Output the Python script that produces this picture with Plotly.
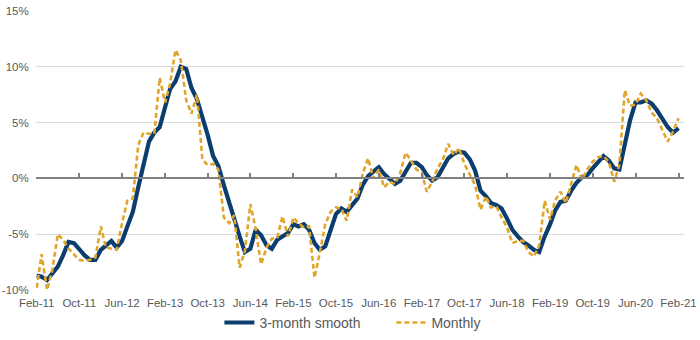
import pandas as pd
import plotly.graph_objects as go

# Monthly dates Feb-11 .. Feb-21
months = pd.date_range("2011-02-01", "2021-02-01", freq="MS")

smooth_3m = [
    -8.7, -8.8, -9.1, -8.5, -7.9, -6.9, -5.7, -5.8, -6.4, -6.9,
    -7.3, -7.3, -6.4, -6.0, -5.6, -6.2, -5.6, -4.3, -3.0, -0.8,
    1.2, 3.3, 4.1, 4.6, 6.4, 8.0, 8.7, 10.0, 9.8, 8.1,
    7.1, 5.6, 3.9, 2.0, 1.1, -0.6, -2.3, -3.7, -5.2, -6.6,
    -6.3, -4.6, -5.1, -6.0, -6.3, -5.5, -5.2, -4.9, -4.1, -4.3,
    -4.1, -4.6, -5.8, -6.4, -6.1, -4.6, -3.2, -2.7, -3.0, -2.4,
    -1.8, -0.6, 0.2, 0.6, 1.0, 0.4, 0.0, -0.5, -0.2, 0.6,
    1.4, 1.4, 1.0, 0.3, -0.2, 0.1, 0.9, 1.8, 2.2, 2.4,
    2.3, 1.7, 0.7, -1.1, -1.6, -2.2, -2.4, -2.7, -3.6, -4.6,
    -5.2, -5.7, -6.0, -6.4, -6.6, -5.2, -4.1, -2.9, -2.1, -2.0,
    -1.1, -0.4, 0.1, 0.3, 0.9, 1.5, 2.0, 1.6, 0.9, 0.8,
    3.0, 5.2, 6.8, 6.8, 7.0, 6.7, 6.1, 5.3, 4.6, 4.1,
    4.5,
]

monthly = [
    -9.8, -6.8, -10.0, -8.2, -5.0, -5.5, -6.3, -6.8, -7.3, -7.4,
    -7.3, -7.1, -4.3, -6.2, -6.3, -6.4, -4.0, -2.0, -1.8, 3.0,
    4.1, 4.0, 4.0, 9.0, 6.8, 8.5, 11.5, 10.6, 7.0, 5.8,
    7.5, 1.7, 1.2, 1.3, 0.8, -3.5, -4.0, -3.3, -8.0, -6.5,
    -2.3, -4.5, -7.7, -6.2, -5.4, -5.3, -3.4, -5.2, -3.5, -4.0,
    -4.4, -4.3, -8.9, -6.7, -4.1, -3.0, -2.6, -2.7, -3.8, -1.0,
    -1.7, 0.4, 1.8, 0.0, 0.8, -0.8, -0.3, -0.5, 0.5, 2.3,
    1.6, 0.8, 0.5, -1.2, -0.3, 0.9, 1.7, 3.1, 2.1, 2.7,
    1.3, 0.3, -0.6, -2.8, -1.6, -2.6, -2.5, -3.5, -4.4, -5.8,
    -5.6, -5.6, -6.6, -7.0, -6.0, -2.0, -3.7, -2.0, -1.2, -2.2,
    -0.4, 1.2, -0.1, 0.8, 1.5, 1.9, 2.0, 1.5, -0.3, 1.2,
    7.9, 6.5, 6.6, 7.6, 7.0, 5.9, 5.4, 4.4, 3.3, 4.2,
    5.4,
]

x_tick_labels = ["Feb-11", "Oct-11", "Jun-12", "Feb-13", "Oct-13", "Jun-14",
                 "Feb-15", "Oct-15", "Jun-16", "Feb-17", "Oct-17", "Jun-18",
                 "Feb-19", "Oct-19", "Jun-20", "Feb-21"]
y_tick_vals = [-10, -5, 0, 5, 10, 15]
y_tick_labels = ["-10%", "-5%", "0%", "5%", "10%", "15%"]

x_tick_vals = [pd.to_datetime(t, format="%b-%y") for t in x_tick_labels]

NAVY = "#0B3D6E"
GOLD = "#E0A52A"
GREY_TXT = "#595959"
FONT = "Liberation Sans, Arial, sans-serif"
x_range = ["2011-01-28", "2021-03-04"]

fig = go.Figure()
fig.add_trace(go.Scatter(
    x=months, y=smooth_3m, mode="lines", name="3-month smooth",
    line=dict(color=NAVY, width=4.2),
))
fig.add_trace(go.Scatter(
    x=months, y=monthly, mode="lines", name="Monthly",
    line=dict(color=GOLD, width=2.6, dash="5px,3px"),
))
# helper trace for the zero-line axis with tick marks
fig.add_trace(go.Scatter(x=[], y=[], xaxis="x2", showlegend=False, hoverinfo="skip"))

fig.update_layout(
    width=700, height=340,
    margin=dict(l=36, r=16, t=11, b=50, autoexpand=False),
    paper_bgcolor="white", plot_bgcolor="white",
    font=dict(family=FONT, size=12, color=GREY_TXT),
    showlegend=True,
    legend=dict(orientation="h", x=0.283, xanchor="left", y=-0.118, yanchor="middle",
                font=dict(size=14, color=GREY_TXT), traceorder="normal",
                itemwidth=30, entrywidth=127, bgcolor="rgba(0,0,0,0)"),
    xaxis=dict(type="date", range=x_range, tickvals=x_tick_vals, ticktext=x_tick_labels,
               showgrid=False, zeroline=False, showline=False,
               ticks="outside", ticklen=2, tickcolor="rgba(0,0,0,0)",
               tickfont=dict(size=11.5, color=GREY_TXT)),
    xaxis2=dict(type="date", range=x_range, overlaying="x", anchor="free", position=0.4,
                tickvals=x_tick_vals, showticklabels=False, ticks="inside", ticklen=4,
                tickwidth=1.5, tickcolor="#808080", showline=True, linecolor="#808080",
                linewidth=2, showgrid=False, zeroline=False),
    yaxis=dict(range=[-10, 15], tickvals=y_tick_vals, ticktext=y_tick_labels,
               showgrid=True, gridcolor="#D9D9D9", gridwidth=1, zeroline=False,
               showline=False, ticks="outside", ticklen=4, tickcolor="rgba(0,0,0,0)",
               tickfont=dict(size=11.5, color=GREY_TXT)),
)

fig.write_html("out.html")
